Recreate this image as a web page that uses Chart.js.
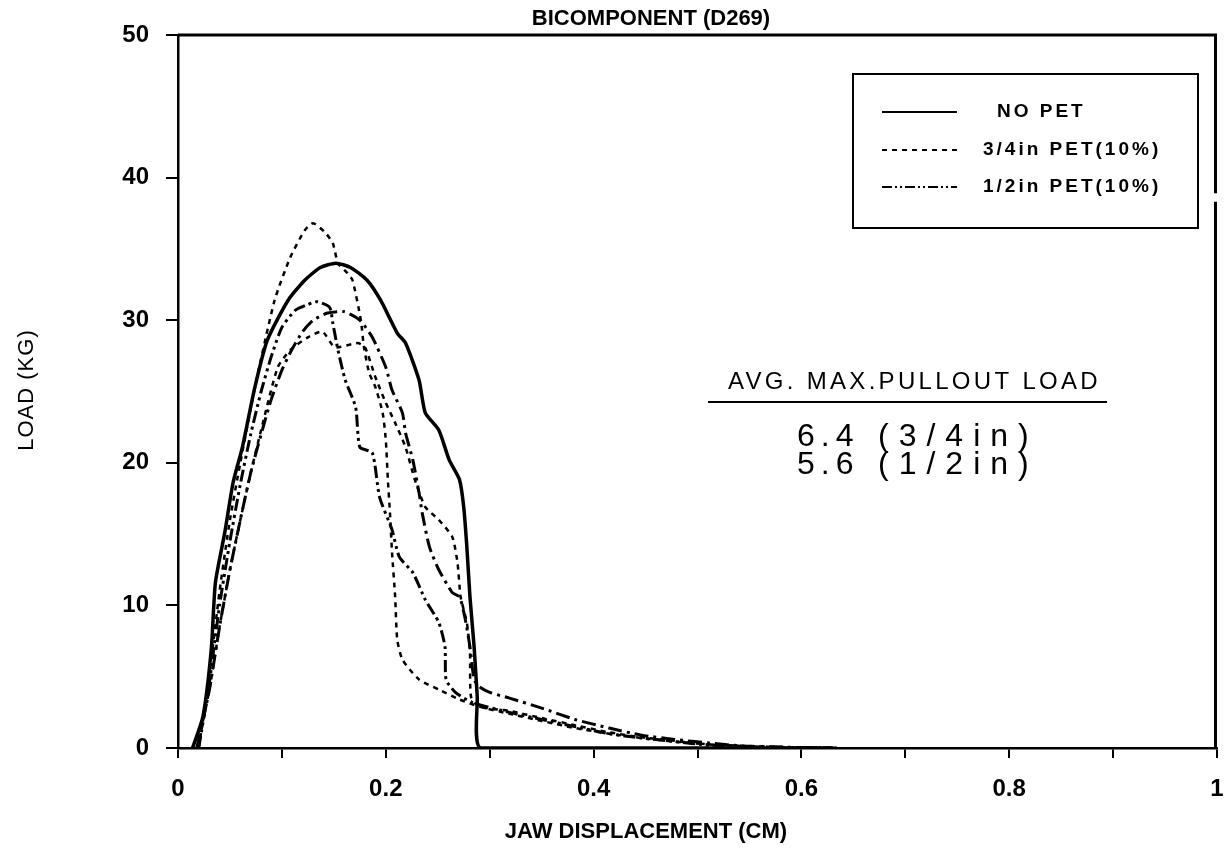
<!DOCTYPE html>
<html>
<head>
<meta charset="utf-8">
<script src="https://cdn.jsdelivr.net/npm/chart.js@4.4.0/dist/chart.umd.min.js"></script>
<style>
html, body { margin: 0; padding: 0; background: #fff; overflow: hidden; }
#wrap { width: 1225px; height: 853px; position: relative; }
</style>
</head>
<body>
<div id="wrap"><canvas id="loadChart"></canvas></div>
<script>
// jaw displacement (cm) / load (kg)
var noPetX = [0.014,0.024,0.032,0.036,0.045,0.053,0.062,0.074,0.086,0.106,0.122,0.137,0.152,0.166,0.182,0.195,0.211,0.219,0.232,0.238,0.251,0.261,0.271,0.275,0.278,0.281,0.285,0.288,0.291,0.40,0.50,0.63];
var noPetY = [0,2.2,6.9,11.6,15.1,18.6,21.1,25.3,28.6,31.4,32.8,33.7,34.0,33.7,32.8,31.4,29.1,28.4,25.8,23.5,22.3,20.2,18.8,16.9,14.1,10.6,7.1,3.6,0,0,0,0];

var pet34aX = [0.020,0.030,0.040,0.050,0.060,0.070,0.077,0.093,0.108,0.122,0.130,0.141,0.149,0.154,0.163,0.168,0.176,0.179,0.184,0.190,0.197,0.200,0.202,0.204,0.206,0.209,0.211,0.216,0.232,0.251,0.271,0.290,0.319,0.350,0.382,0.415,0.446,0.478,0.511,0.574,0.630];
var pet34aY = [0,5,11,16,20,23.8,26.3,31.4,34.4,36.3,36.8,36.2,35.4,34.0,33.3,32.8,30.0,28.1,26.3,25.3,23.5,21.6,18.8,16.5,13.7,10.6,7.6,6.2,4.8,4.1,3.4,2.9,2.4,1.9,1.4,1.0,0.7,0.45,0.25,0.05,0];

var pet34bX = [0.019,0.030,0.040,0.050,0.060,0.070,0.080,0.096,0.108,0.125,0.139,0.151,0.173,0.180,0.190,0.200,0.209,0.219,0.228,0.238,0.251,0.264,0.269,0.272,0.278,0.281,0.282,0.290,0.319,0.350,0.382,0.415,0.446,0.478,0.511,0.574,0.620];
var pet34bY = [0,4,8.5,12.5,16,19.3,22.3,26.7,27.9,28.8,29.2,28.1,28.4,28.1,26.0,24.2,22.8,21.1,18.8,16.9,16.0,14.8,13.0,10.6,8.8,6.7,3.6,2.9,2.6,2.1,1.6,1.1,0.75,0.5,0.25,0.08,0];

var pet12aX = [0.020,0.030,0.040,0.050,0.060,0.070,0.080,0.090,0.100,0.113,0.125,0.134,0.146,0.149,0.154,0.161,0.171,0.175,0.187,0.194,0.206,0.213,0.226,0.238,0.251,0.257,0.258,0.267,0.283,0.319,0.350,0.382,0.415,0.446,0.478,0.511,0.574,0.630];
var pet12aY = [0,4.5,10,14.5,18.5,22,25,27.5,29.5,30.7,31.1,31.3,30.9,29.8,27.9,25.8,23.9,21.1,20.7,17.6,15.3,13.4,12.3,10.4,8.8,7.1,4.8,3.9,3.2,2.5,2.0,1.5,1.0,0.7,0.45,0.2,0.05,0];

var pet12bX = [0.018,0.030,0.040,0.050,0.060,0.070,0.080,0.090,0.100,0.110,0.120,0.130,0.144,0.160,0.175,0.187,0.200,0.206,0.216,0.219,0.226,0.232,0.235,0.242,0.251,0.264,0.271,0.276,0.281,0.285,0.290,0.300,0.319,0.350,0.382,0.415,0.446,0.478,0.511,0.542,0.590,0.635];
var pet12bY = [0,4,8.5,12.5,16,19.3,22,24.5,26.5,28,29.2,30,30.5,30.6,30.0,28.8,26.7,25.1,23.5,22.1,20.2,17.9,16.5,14.1,12.5,10.9,10.6,9.2,7.1,4.8,4.3,3.9,3.5,2.8,2.0,1.4,0.9,0.6,0.35,0.15,0.05,0];

var legendLabels = ["NO PET", "3/4in PET(10%)", "1/2in PET(10%)"];
var avgLabels = ["6.4", "5.6"];
var avgSizes = ["(3/4in)", "(1/2in)"];

var FONT = '"Liberation Sans", Arial, sans-serif';

function pts(xs, ys) {
    return xs.map(function (x, i) { return { x: x, y: ys[i] }; });
}

var dashSolid = [];
var dashDot = [5, 5];
var dashDotDot = [12, 4, 3, 4, 3, 4];
var dashLong = [14, 5, 3, 5];

function seg(ctx, x1, y1, x2, y2) {
    ctx.beginPath();
    ctx.moveTo(x1, y1);
    ctx.lineTo(x2, y2);
    ctx.stroke();
}

// frame, legend box and the text notes
var extras = {
    id: 'extras',
    afterDraw: function (chart) {
        var ctx = chart.ctx;
        var a = chart.chartArea;
        var ys = chart.scales.y;
        var rx = Math.round(a.right) - 1.5;
        ctx.save();
        ctx.strokeStyle = '#000';
        ctx.fillStyle = '#000';
        ctx.setLineDash([]);
        ctx.lineWidth = 3;
        seg(ctx, a.left, a.top, a.right, a.top);
        seg(ctx, rx, a.top, rx, ys.getPixelForValue(38.9));
        seg(ctx, rx, ys.getPixelForValue(38.3), rx, a.bottom);

        // titles
        ctx.textBaseline = 'middle';
        ctx.textAlign = 'center';
        ctx.font = 'bold 22px ' + FONT;
        ctx.fillText('BICOMPONENT (D269)', 651, 19);
        ctx.fillText('JAW DISPLACEMENT (CM)', 646, 832);
        ctx.save();
        ctx.translate(27, 390);
        ctx.rotate(-Math.PI / 2);
        ctx.font = '22px ' + FONT;
        ctx.letterSpacing = '1px';
        ctx.fillText('LOAD (KG)', 0, 0);
        ctx.restore();

        // legend
        ctx.lineWidth = 2;
        ctx.strokeRect(853, 74, 345, 154);
        var rows = [112, 150, 187];
        var dashes = [dashSolid, [5, 5], [10, 3, 2, 3, 2, 3]];
        var textX = [997, 983, 983];
        ctx.textAlign = 'left';
        ctx.font = 'bold 19px ' + FONT;
        ctx.letterSpacing = '3px';
        for (var i = 0; i < legendLabels.length; i++) {
            ctx.setLineDash(dashes[i]);
            seg(ctx, 882, rows[i], 957, rows[i]);
            ctx.setLineDash([]);
            ctx.fillText(legendLabels[i], textX[i], rows[i]);
        }

        // average max pullout load note
        ctx.font = '24px ' + FONT;
        ctx.letterSpacing = '3.3px';
        ctx.fillText('AVG. MAX.PULLOUT LOAD', 728, 382);
        seg(ctx, 708, 402, 1107, 402);
        ctx.font = '32px ' + FONT;
        var noteRows = [437, 465];
        for (var j = 0; j < avgLabels.length; j++) {
            ctx.letterSpacing = '6px';
            ctx.fillText(avgLabels[j], 797, noteRows[j]);
            ctx.letterSpacing = '10px';
            ctx.fillText(avgSizes[j], 878, noteRows[j]);
        }
        ctx.letterSpacing = '0px';
        ctx.restore();
    }
};

function series(label, xs, ys, dash, width) {
    return {
        label: label,
        data: pts(xs, ys),
        borderColor: '#000',
        borderWidth: width,
        borderDash: dash,
        pointRadius: 0,
        fill: false,
        tension: 0.2
    };
}

var ctxL = document.getElementById('loadChart').getContext('2d');
var loadChart = new Chart(ctxL, {
    type: 'line',
    data: {
        datasets: [
            series(legendLabels[0], noPetX, noPetY, dashSolid, 3.5),
            series(legendLabels[1], pet34aX, pet34aY, dashDot, 2.5),
            series(legendLabels[1], pet34bX, pet34bY, dashDot, 2.5),
            series(legendLabels[2], pet12aX, pet12aY, dashDotDot, 3),
            series(legendLabels[2], pet12bX, pet12bY, dashLong, 3)
        ]
    },
    options: {
        responsive: true,
        maintainAspectRatio: false,
        animation: false,
        layout: { padding: { top: 35, right: 8, left: 0, bottom: 0 } },
        plugins: {
            legend: { display: false },
            title: { display: false },
            tooltip: { enabled: false }
        },
        scales: {
            x: {
                type: 'linear',
                min: 0,
                max: 1,
                border: { display: true, color: '#000', width: 2.5 },
                grid: { drawOnChartArea: false, drawTicks: true, tickLength: 10, color: '#000', lineWidth: 2 },
                ticks: {
                    stepSize: 0.1,
                    autoSkip: false,
                    maxRotation: 0,
                    padding: 17,
                    color: '#000',
                    font: { family: FONT, size: 24, weight: 'bold' },
                    callback: function (value) {
                        var v = Math.round(value * 10);
                        if (v % 2) return '';
                        if (v === 0) return '0';
                        if (v === 10) return '1';
                        return (v / 10).toFixed(1);
                    }
                },
                afterFit: function (s) {
                    s.height = 105;
                    s.paddingLeft = 0;
                    s.paddingRight = 0;
                }
            },
            y: {
                min: 0,
                max: 50,
                border: { display: true, color: '#000', width: 2.5 },
                grid: { drawOnChartArea: false, drawTicks: true, tickLength: 12, color: '#000', lineWidth: 2 },
                ticks: {
                    stepSize: 10,
                    padding: 17,
                    color: '#000',
                    font: { family: FONT, size: 24, weight: 'bold' }
                },
                afterFit: function (s) {
                    s.width = 178;
                    s.paddingTop = 0;
                    s.paddingBottom = 0;
                }
            }
        }
    },
    plugins: [extras]
});
</script>
</body>
</html>
